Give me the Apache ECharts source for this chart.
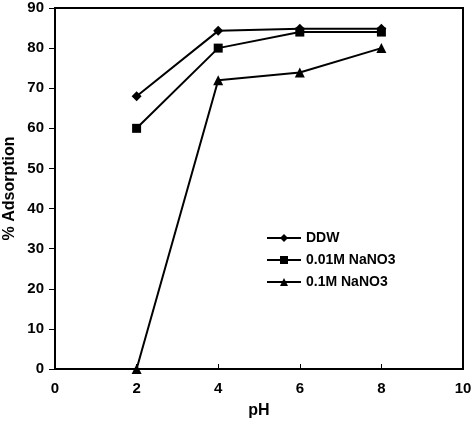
<!DOCTYPE html>
<html style="height: 100%">
<head>
<meta charset="utf-8">
<title>Adsorption vs pH</title>
<script src="https://cdn.jsdelivr.net/npm/echarts@6/dist/echarts.min.js"></script>
</head>
<body style="margin:0;height:100%;background:#fff">
<div id="main" style="width:473px;height:422px"></div>
<script>
var ph = [2, 4, 6, 8];
var ddw = [68, 84.3, 84.8, 84.8];
var nano001 = [60, 80, 84, 84];
var nano01 = [0, 72, 73.9, 80];

function pairs(vals) {
    return ph.map(function (x, i) { return [x, vals[i]]; });
}

var font = 'Liberation Sans, Arial, sans-serif';
var chart = echarts.init(document.getElementById('main'));

function line(name, data, symbol, size) {
    return {
        name: name,
        type: 'line',
        data: pairs(data),
        symbol: symbol,
        symbolSize: size,
        itemStyle: { color: '#000' },
        lineStyle: { color: '#000', width: 2 },
        animation: false
    };
}

chart.setOption({
    backgroundColor: '#fff',
    grid: {
        left: 55, right: 10, top: 8, bottom: 53,
        outerBoundsMode: 'none',
        show: true, borderColor: '#000', borderWidth: 2
    },
    legend: {
        orient: 'vertical',
        left: 261, top: 226,
        itemWidth: 34, itemHeight: 10, itemGap: 8,
        textStyle: { fontFamily: font, fontWeight: 'bold', fontSize: 14, color: '#000' },
        data: ['DDW', '0.01M NaNO3', '0.1M NaNO3']
    },
    xAxis: {
        type: 'value', min: 0, max: 10, interval: 2,
        name: 'pH', nameLocation: 'middle', nameGap: 34, nameMoveOverlap: false,
        nameTextStyle: { fontFamily: font, fontWeight: 'bold', fontSize: 16, color: '#000' },
        axisLine: { lineStyle: { color: '#000', width: 2 } },
        axisTick: { inside: true, length: 5, lineStyle: { color: '#000' } },
        axisLabel: { fontFamily: font, fontWeight: 'bold', fontSize: 15, color: '#000', margin: 12 },
        splitLine: { show: false }
    },
    yAxis: {
        type: 'value', min: 0, max: 90, interval: 10,
        name: '% Adsorption', nameLocation: 'middle', nameGap: 37, nameRotate: 90, nameMoveOverlap: false,
        nameTextStyle: { fontFamily: font, fontWeight: 'bold', fontSize: 16, color: '#000' },
        axisLine: { lineStyle: { color: '#000', width: 2 } },
        axisTick: { inside: false, length: 6, lineStyle: { color: '#000' } },
        axisLabel: { fontFamily: font, fontWeight: 'bold', fontSize: 15, color: '#000', margin: 11 },
        splitLine: { show: false }
    },
    series: [
        line('DDW', ddw, 'diamond', 10),
        line('0.01M NaNO3', nano001, 'rect', 9),
        line('0.1M NaNO3', nano01, 'triangle', 10)
    ]
});
</script>
</body>
</html>
